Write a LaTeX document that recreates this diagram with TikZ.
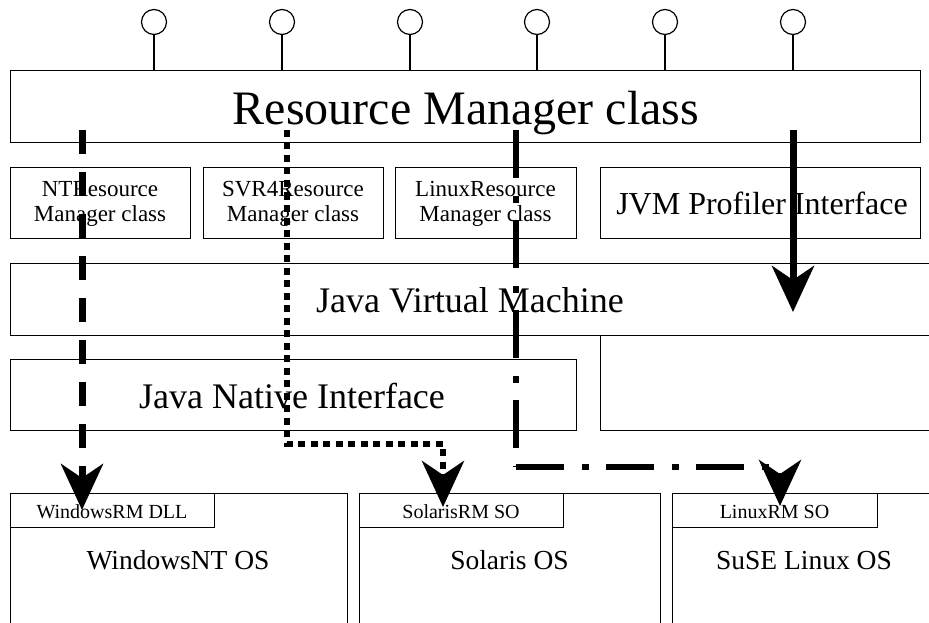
\documentclass[tikz,border=0pt]{standalone}
\usepackage{fontspec}
\setmainfont{Liberation Serif}
\usetikzlibrary{arrows.meta}
\begin{document}
\begin{tikzpicture}[x=1bp,y=-1bp,
  box/.style={draw=black, line width=1.2bp, inner sep=0pt, anchor=north west},
  lolly/.style={circle, draw=black, line width=1.2bp, minimum size=25bp, inner sep=0pt},
  stem/.style={draw=black, line width=1.2bp},
  ftitle/.style={font=\fontsize{48bp}{52bp}\selectfont, anchor=base, inner sep=0pt},
  fmid/.style={font=\fontsize{36bp}{40bp}\selectfont, anchor=base, inner sep=0pt},
  fpi/.style={font=\fontsize{32bp}{36bp}\selectfont, anchor=base, inner sep=0pt},
  fos/.style={font=\fontsize{27.5bp}{30bp}\selectfont, anchor=base, inner sep=0pt},
  fcls/.style={font=\fontsize{23bp}{25bp}\selectfont, align=center, inner sep=0pt},
  flib/.style={font=\fontsize{20bp}{22bp}\selectfont, anchor=base, inner sep=0pt},
  bigtip/.style={-{Stealth[length=46bp,width=42bp,inset=14bp]}},
  dashline/.style={line width=7bp, dash pattern=on 24bp off 18bp},
  dotline/.style={line width=6.5bp, dash pattern=on 7bp off 5.5bp},
  dashdotline/.style={line width=6.5bp, dash pattern=on 48bp off 18bp on 7bp off 17bp},
  solidline/.style={line width=7bp}
]
\path[use as bounding box] (0,0) rectangle (929,623);
\clip (0,0) rectangle (929,623);

% Resource Manager class box with lollipops
\node[box, minimum width=910bp, minimum height=72bp] (rmc) at (10,70) {};
\node[ftitle] (rmct) at (466,125) {Resource Manager class};
\foreach \i/\x in {1/154,2/282,3/410,4/537,5/665,6/793}{
  \node[lolly] (l\i) at (\x,22) {};
  \draw[stem] (l\i.south) -- (l\i.south |- rmc.north);
}

% class boxes
\node[box, minimum width=180bp, minimum height=71bp] (nt) at (10,167) {};
\node[box, minimum width=180bp, minimum height=71bp] (svr) at (203,167) {};
\node[box, minimum width=181bp, minimum height=71bp] (lin) at (395,167) {};
\node[box, minimum width=320bp, minimum height=71bp] (jpi) at (600,167) {};
\node[fcls] (ntt) at (100,204) {NTResource\\Manager class};
\node[fcls] (svrt) at (293,204) {SVR4Resource\\Manager class};
\node[fcls] (lint) at (485.5,204) {LinuxResource\\Manager class};
\node[fpi] (jpit) at (762,215) {JVM Profiler Interface};

% JVM
\node[box, minimum width=930bp, minimum height=72bp] (jvm) at (10,263) {};
\node[fmid] (jvmt) at (470,312) {Java Virtual Machine};
\node[box, minimum width=340bp, minimum height=95bp] (blank) at (600,335) {};

% JNI
\node[box, minimum width=566bp, minimum height=71bp] (jni) at (10,359) {};
\node[fmid] (jnit) at (292,408) {Java Native Interface};

% OS boxes
\node[box, minimum width=337bp, minimum height=140bp] (win) at (10,493) {};
\node[box, minimum width=301bp, minimum height=140bp] (sol) at (359,493) {};
\node[box, minimum width=264bp, minimum height=140bp] (suse) at (672,493) {};
\node[box, minimum width=204bp, minimum height=34bp] (dll) at (10,493) {};
\node[box, minimum width=204bp, minimum height=34bp] (solso) at (359,493) {};
\node[box, minimum width=205bp, minimum height=34bp] (linso) at (672,493) {};
\node[flib] (dllt) at (112,518) {WindowsRM DLL};
\node[flib] (solsot) at (461,518) {SolarisRM SO};
\node[flib] (linsot) at (774.5,518) {LinuxRM SO};
\node[fos] (wint) at (178,569) {WindowsNT OS};
\node[fos] (solt) at (509.5,569) {Solaris OS};
\node[fos] (suset) at (804,569) {SuSE Linux OS};

% connectors
\coordinate (a1s) at (82,130);
\coordinate (a1e) at (82,510);
\coordinate (a2s) at (287,130);
\coordinate (a2c) at (287,444);
\coordinate (a2e) at (443,507);
\coordinate (a3s) at (516,130);
\coordinate (a3c) at (516,467);
\coordinate (a3e) at (780,506);
\coordinate (a4s) at (793,130);
\coordinate (a4e) at (793,312);

\draw[dashline, bigtip] (a1s) -- (a1e);
\draw[dotline, bigtip] (a2s) -- (a2c) -| (a2e);
\draw[dashdotline] (a3s) -- (a3c);
\draw[dashdotline, bigtip] (a3c) -| (a3e);
\draw[solidline, bigtip] (a4s) -- (a4e);
\end{tikzpicture}
\end{document}
